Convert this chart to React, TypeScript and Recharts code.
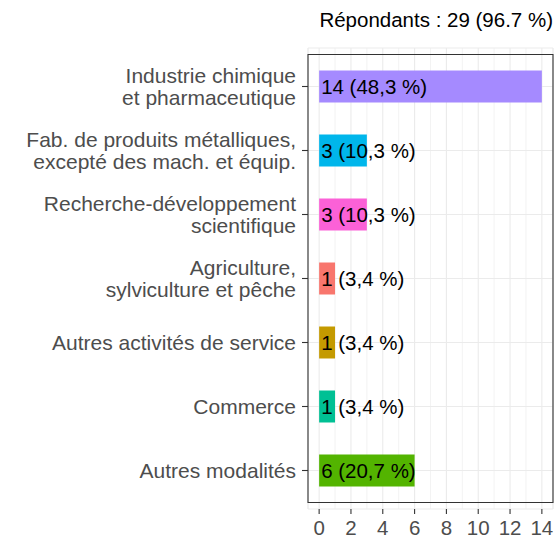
import { BarChart, Bar, XAxis, YAxis, CartesianGrid, ReferenceArea, LabelList, Cell } from "recharts";

const categories = [
  "Industrie chimique\net pharmaceutique",
  "Fab. de produits métalliques,\nexcepté des mach. et équip.",
  "Recherche-développement\nscientifique",
  "Agriculture,\nsylviculture et pêche",
  "Autres activités de service",
  "Commerce",
  "Autres modalités",
];
const counts = [14, 3, 3, 1, 1, 1, 6];
const percents = ["48,3", "10,3", "10,3", "3,4", "3,4", "3,4", "20,7"];
const colors = ["#A58AFF", "#00B6EB", "#FB61D7", "#F8766D", "#C49A00", "#00C094", "#53B400"];
const majorTicks = [0, 2, 4, 6, 8, 10, 12, 14];
const minorTicks = [1, 3, 5, 7, 9, 11, 13];
const title = "Répondants : 29 (96.7 %)";

const data = categories.map((c, i) => ({ name: c, value: counts[i], pct: percents[i] }));

const FONT = "'Liberation Sans', Arial, sans-serif";

function YTick(props: any) {
  const { x, y, payload } = props;
  const lines = String(payload.value).split("\n");
  const lh = 21.6;
  const start = y - ((lines.length - 1) * lh) / 2;
  return (
    <text x={x} y={start} textAnchor="end" fill="#4D4D4D" fontSize={21} fontFamily={FONT}>
      {lines.map((l, i) => (
        <tspan key={i} x={x} y={start + i * lh} dominantBaseline="central">
          {l}
        </tspan>
      ))}
    </text>
  );
}

function BarLabel(props: any) {
  const { x, y, height, index } = props;
  return (
    <text x={x + 2} y={y + height / 2} dominantBaseline="central" fill="#000" fontSize={20.5} fontFamily={FONT}>
      {`${counts[index]} (${percents[index]} %)`}
    </text>
  );
}

export default function App() {
  return (
    <div style={{ position: "absolute", left: 0, top: 0, width: 557, height: 538, background: "#fff" }}>
      <div
        style={{
          position: "absolute",
          right: 4,
          top: 10,
          fontFamily: FONT,
          fontSize: 20.5,
          lineHeight: "20.5px",
          color: "#000",
          whiteSpace: "nowrap",
        }}
      >
        {title}
      </div>
      <BarChart
        width={557}
        height={538}
        data={data}
        layout="vertical"
        margin={{ top: 48, right: 4, bottom: 0, left: 0 }}
      >
        <CartesianGrid xAxisId="minor" horizontal={false} stroke="#EBEBEB" strokeWidth={0.6} />
        <CartesianGrid stroke="#EBEBEB" strokeWidth={1.1} />
        <XAxis
          xAxisId="minor"
          type="number"
          domain={[-0.7, 14.7]}
          ticks={minorTicks}
          allowDataOverflow
          hide
        />
        <XAxis
          type="number"
          domain={[-0.7, 14.7]}
          ticks={majorTicks}
          allowDataOverflow
          height={29}
          axisLine={false}
          tickLine={{ stroke: "#333333", strokeWidth: 1.1 }}
          tickSize={5}
          tickMargin={6}
          tick={{ fill: "#4D4D4D", fontSize: 20.5, fontFamily: FONT }}
        />
        <YAxis
          type="category"
          dataKey="name"
          width={308}
          padding={{ top: 6.5, bottom: 6.5 }}
          axisLine={false}
          tickLine={{ stroke: "#333333", strokeWidth: 1.1 }}
          tickSize={6}
          tickMargin={6}
          interval={0}
          tick={<YTick />}
        />
        <Bar dataKey="value" barSize={32} isAnimationActive={false}>
          {data.map((d, i) => (
            <Cell key={d.name} fill={colors[i]} />
          ))}
          <LabelList dataKey="value" content={<BarLabel />} />
        </Bar>
        <ReferenceArea x1={-0.7} x2={14.7} fill="none" stroke="#333333" strokeWidth={1.1} ifOverflow="visible" />
      </BarChart>
    </div>
  );
}
